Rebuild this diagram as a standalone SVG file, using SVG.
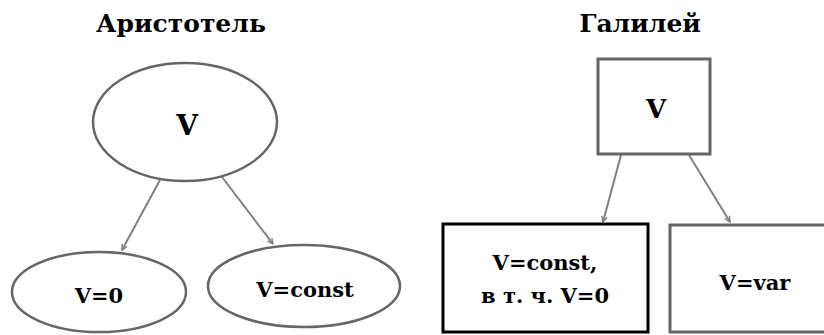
<svg xmlns="http://www.w3.org/2000/svg" width="824" height="335" viewBox="0 0 824 335">
<style>
text{font-family:'DejaVu Serif','Liberation Serif',serif;font-weight:bold;fill:#000;text-anchor:middle}
.title{font-size:25px}
.lbl{font-size:21px}
.ell{fill:#fff;stroke:#666;stroke-width:2.5}
.conn{stroke:#808080;stroke-width:2;fill:none;marker-end:url(#ah)}
</style>
<defs>
<marker id="ah" viewBox="0 0 10 10" refX="9" refY="5" markerWidth="7" markerHeight="7" markerUnits="userSpaceOnUse" orient="auto">
<path d="M1,1 L9,5 L1,9" fill="none" stroke="#808080" stroke-width="2"/>
</marker>
</defs>
<rect width="824" height="335" fill="#fff"/>
<text class="title" x="181" y="32">Аристотель</text>
<text class="title" x="640" y="32">Галилей</text>
<g id="connectors">
<line class="conn" x1="160" y1="180" x2="122" y2="250"/>
<line class="conn" x1="222" y1="177" x2="273" y2="244"/>
<line class="conn" x1="621" y1="155" x2="603" y2="222"/>
<line class="conn" x1="689" y1="155" x2="730" y2="222"/>
</g>
<g id="aristotle-v">
<ellipse class="ell" cx="185" cy="122" rx="92" ry="59"/>
<text x="187" y="135" style="font-size:28px">V</text>
</g>
<g id="aristotle-v0">
<ellipse class="ell" cx="99" cy="292" rx="87" ry="40"/>
<text class="lbl" x="99" y="303">V=0</text>
</g>
<g id="aristotle-vconst">
<ellipse class="ell" cx="304" cy="286" rx="96" ry="41"/>
<text class="lbl" x="305" y="297">V=const</text>
</g>
<g id="galileo-v">
<rect x="598" y="59" width="112" height="95" fill="#fff" stroke="#666" stroke-width="3"/>
<text x="656" y="118" style="font-size:26px">V</text>
</g>
<g id="galileo-const">
<rect x="443" y="224" width="205" height="108" fill="#fff" stroke="#000" stroke-width="3"/>
<text class="lbl" x="545" y="270">V=const,</text>
<text class="lbl" x="545" y="303">в т. ч. V=0</text>
</g>
<g id="galileo-var">
<rect x="670" y="225" width="170" height="107" fill="#fff" stroke="#666" stroke-width="3"/>
<text class="lbl" x="755" y="290">V=var</text>
</g>
</svg>
